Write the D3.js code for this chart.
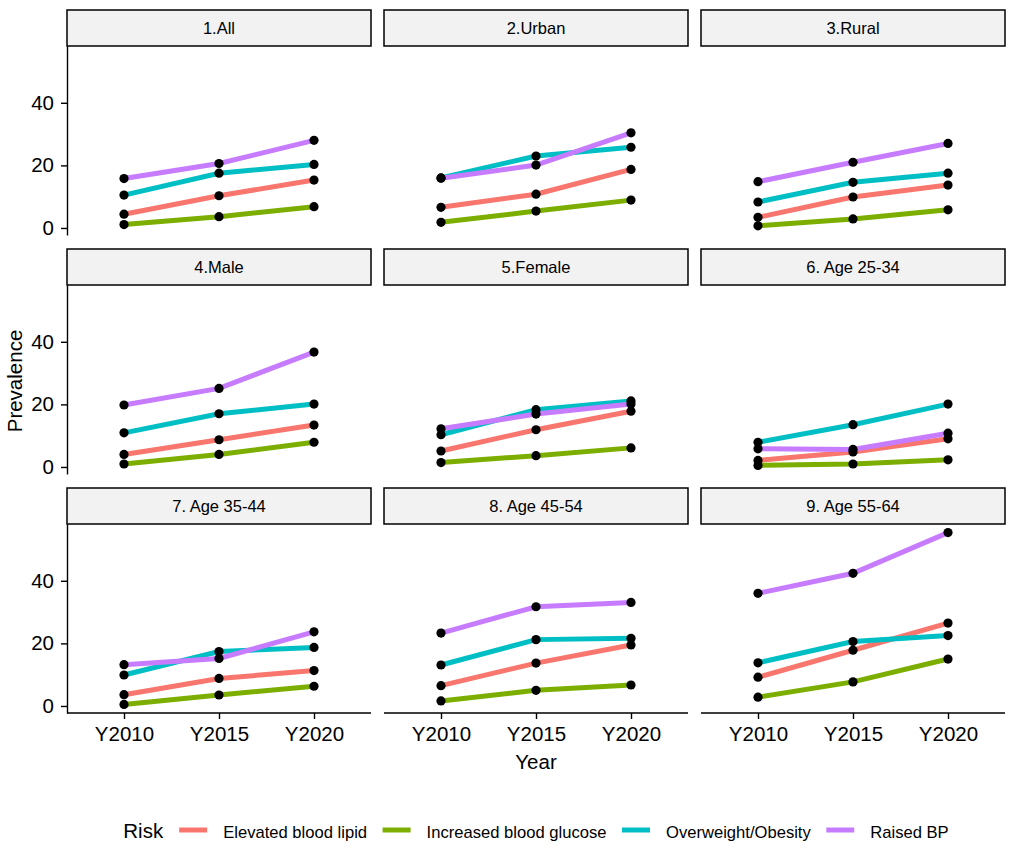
<!DOCTYPE html>
<html>
<head>
<meta charset="utf-8">
<script src="https://cdn.jsdelivr.net/npm/d3@7"></script>
<style>
  body { margin: 0; background: #fff; }
  text { font-family: "Liberation Sans", Arial, sans-serif; fill: #000; }
</style>
</head>
<body>
<div id="chart"></div>
<script>
// data >>>>>>>>>>>>>>>>>>>>>>>>>>>>>
var panels = ["1.All", "2.Urban", "3.Rural", "4.Male", "5.Female",
  "6. Age 25-34", "7. Age 35-44", "8. Age 45-54", "9. Age 55-64"];
var years = ["Y2010", "Y2015", "Y2020"];
var risks = ["Elevated blood lipid", "Increased blood glucose",
  "Overweight/Obesity", "Raised BP"];
var yTicks = [0, 20, 40];

// one row per panel, one value per year
var lipid = [
  [4.4, 10.3, 15.3], [6.6, 10.8, 18.7], [3.4, 9.9, 13.7],
  [4.0, 8.7, 13.4], [5.1, 11.9, 17.8], [2.1, 4.8, 9.0],
  [3.6, 8.8, 11.3], [6.5, 13.7, 19.5], [9.2, 17.8, 26.5]];
var glucose = [
  [1.1, 3.6, 6.8], [1.8, 5.4, 8.9], [0.7, 2.9, 5.8],
  [0.95, 4.0, 7.9], [1.4, 3.6, 6.1], [0.5, 0.95, 2.3],
  [0.5, 3.5, 6.3], [1.6, 5.0, 6.7], [2.8, 7.7, 15.0]];
var obesity = [
  [10.5, 17.5, 20.3], [16.0, 23.0, 25.8], [8.3, 14.6, 17.5],
  [10.9, 17.0, 20.1], [10.3, 18.3, 21.1], [7.9, 13.5, 20.1],
  [9.9, 17.4, 18.7], [13.1, 21.2, 21.6], [13.8, 20.6, 22.5]];
var bp = [
  [15.8, 20.6, 28.0], [15.9, 20.1, 30.4], [14.8, 21.0, 27.0],
  [19.8, 25.1, 36.7], [12.2, 16.9, 20.1], [5.8, 5.6, 10.8],
  [13.2, 15.2, 23.7], [23.3, 31.7, 33.1], [36.0, 42.4, 55.4]];
var series = [lipid, glucose, obesity, bp];

// layout
var width = 1013,
  height = 849,
  marginLeft = 67,
  marginTop = 10,
  panelW = 304,
  colGap = 13,
  stripH = 36,
  panelH = 189,
  rowGap = 14,
  nCol = 3;

var color = d3.scaleOrdinal()
  .domain(risks)
  .range(["#F8766D", "#7CAE00", "#00BFC4", "#C77CFF"]);

var x = d3.scalePoint().domain(years).range([0, panelW]).padding(0.6);

// shared y scale with ggplot-like 5% expansion
var allVals = d3.merge(series.map(function (s) { return d3.merge(s); }));
var ext = d3.extent(allVals);
var pad = (ext[1] - ext[0]) * 0.05;
var y = d3.scaleLinear().domain([ext[0] - pad, ext[1] + pad]).range([panelH, 0]);

var line = d3.line()
  .x(function (d, i) { return x(years[i]); })
  .y(function (d) { return y(d); });

var svg = d3.select("#chart")
  .append("svg")
  .attr("width", width)
  .attr("height", height);

panels.forEach(function (name, p) {
  var col = p % nCol,
    row = Math.floor(p / nCol);
  var px = marginLeft + col * (panelW + colGap),
    py = marginTop + row * (stripH + panelH + rowGap);

  var g = svg.append("g").attr("transform", "translate(" + px + "," + py + ")");

  // strip
  g.append("rect")
    .attr("x", 0)
    .attr("y", 0)
    .attr("width", panelW)
    .attr("height", stripH)
    .attr("fill", "#F2F2F2")
    .attr("stroke", "#000")
    .attr("stroke-width", 1.5);
  g.append("text")
    .attr("x", panelW / 2)
    .attr("y", stripH / 2)
    .attr("dy", "0.35em")
    .attr("text-anchor", "middle")
    .style("font-size", "16.5px")
    .text(name);

  var pg = g.append("g").attr("transform", "translate(0," + stripH + ")");

  // y axis only on the left column
  if (col === 0) {
    var ya = pg.append("g")
      .call(d3.axisLeft(y).tickValues(yTicks).tickSize(6).tickSizeOuter(0).tickPadding(7));
    ya.selectAll("text").style("font-size", "20.5px").attr("fill", "#000");
    ya.selectAll("line, path").attr("stroke", "#000").attr("stroke-width", 1.4);
  }

  // x axis only on the bottom row
  if (row === 2) {
    var xa = pg.append("g")
      .attr("transform", "translate(0," + panelH + ")")
      .call(d3.axisBottom(x).tickSize(6).tickSizeOuter(0).tickPadding(7));
    xa.selectAll("text").style("font-size", "20.5px").attr("fill", "#000");
    xa.selectAll("line, path").attr("stroke", "#000").attr("stroke-width", 1.4);
    // ggplot axis line spans the full panel width
    xa.select(".domain").attr("d", "M0,0H" + panelW);
  }

  // lines
  series.forEach(function (s, k) {
    pg.append("path")
      .datum(s[p])
      .attr("fill", "none")
      .attr("stroke", color(risks[k]))
      .attr("stroke-width", 5)
      .attr("d", line);
  });

  // points on top
  series.forEach(function (s) {
    pg.selectAll(null)
      .data(s[p])
      .enter()
      .append("circle")
      .attr("cx", function (d, i) { return x(years[i]); })
      .attr("cy", function (d) { return y(d); })
      .attr("r", 4.6)
      .attr("fill", "#000");
  });
});

var plotRight = marginLeft + nCol * panelW + (nCol - 1) * colGap;
var plotMid = (marginLeft + plotRight) / 2;

// axis titles
svg.append("text")
  .attr("x", plotMid)
  .attr("y", 769)
  .attr("text-anchor", "middle")
  .style("font-size", "20.5px")
  .text("Year");

svg.append("text")
  .attr("transform", "translate(21.5,381) rotate(-90)")
  .attr("text-anchor", "middle")
  .style("font-size", "20.5px")
  .text("Prevalence");

// legend, laid out left to right then centred under the panels
var legend = svg.append("g");
var lx = 0;
var title = legend.append("text")
  .attr("x", 0)
  .attr("y", 838)
  .style("font-size", "20.5px")
  .text("Risk");
lx = title.node().getComputedTextLength() + 16;

risks.forEach(function (r) {
  legend.append("line")
    .attr("x1", lx)
    .attr("x2", lx + 28)
    .attr("y1", 830)
    .attr("y2", 830)
    .attr("stroke", color(r))
    .attr("stroke-width", 5);
  var t = legend.append("text")
    .attr("x", lx + 44)
    .attr("y", 838)
    .style("font-size", "16.6px")
    .text(r);
  lx = lx + 44 + t.node().getComputedTextLength() + 15.5;
});
var legendW = lx - 15.5;
legend.attr("transform", "translate(" + (plotMid - legendW / 2) + ",0)");
</script>
</body>
</html>
